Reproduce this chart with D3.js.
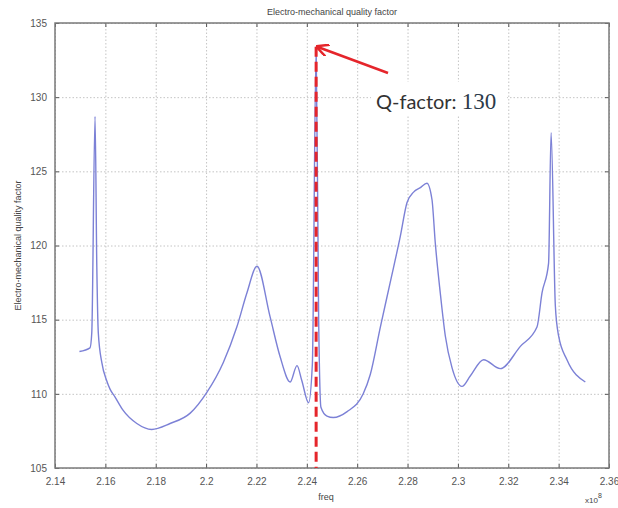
<!DOCTYPE html>
<html>
<head>
<meta charset="utf-8">
<script src="https://cdn.jsdelivr.net/npm/d3@7"></script>
<style>
	body { margin: 0; background: #fff; }
	svg { display: block; }
</style>
</head>
<body>
<div id="chart"></div>
<script>
(function () {

	// frequency (x1e8) and quality factor
	var freq = [2.1497, 2.1539, 2.1546, 2.1559, 2.1566, 2.1572, 2.1586, 2.1605, 2.1619, 2.1638,
		2.1670, 2.1725, 2.1784, 2.1857, 2.1937, 2.2003, 2.2068, 2.2122, 2.2162, 2.2202,
		2.2254, 2.2294, 2.2334, 2.2361, 2.2380, 2.2407, 2.2422, 2.2437, 2.2447, 2.2456,
		2.2480, 2.2505, 2.2560, 2.2624, 2.2652, 2.2692, 2.2731, 2.2771, 2.2798, 2.2824,
		2.2851, 2.2877, 2.2897, 2.2910, 2.2930, 2.2950, 2.2976, 2.3016, 2.3049, 2.3102,
		2.3168, 2.3248, 2.3314, 2.3334, 2.3360, 2.3370, 2.3387, 2.3400, 2.3433, 2.3506];
	var qfactor = [112.85, 113.1, 114.1, 128.7, 118.6, 114.1, 112.1, 110.9, 110.3, 109.8,
		108.9, 108.0, 107.6, 108.0, 108.7, 110.1, 112.1, 114.5, 116.8, 118.6,
		115.2, 112.5, 110.8, 111.9, 110.9, 109.4, 112.0, 133.4, 115.0, 109.1,
		108.5, 108.4, 108.8, 110.0, 111.3, 114.5, 117.5, 120.6, 122.9, 123.6,
		123.9, 124.2, 123.1, 120.2, 116.8, 113.9, 111.8, 110.5, 111.2, 112.3,
		111.7, 113.2, 114.5, 116.8, 118.8, 127.6, 115.9, 113.9, 112.3, 110.8];

	var xTicks = [2.14, 2.16, 2.18, 2.2, 2.22, 2.24, 2.26, 2.28, 2.3, 2.32, 2.34, 2.36];
	var yTicks = [105, 110, 115, 120, 125, 130, 135];

	var markerFreq = 2.2437;
	var markerQ = 133.4;
	var markerLabel = "Q-factor: ";
	var markerValue = "130";

	var width = 618, height = 508;
	var left = 55, right = 609, top = 23, bottom = 468;

	var svg = d3.select("#chart")
				.append("svg")
				.attr("width", width)
				.attr("height", height);

	svg.append("rect")
		.attr("width", width)
		.attr("height", height)
		.attr("fill", "#fff");

	var x = d3.scaleLinear().domain([2.14, 2.36]).range([left, right]);
	var y = d3.scaleLinear().domain([105, 135]).range([bottom, top]);

	// dotted grid
	var grid = svg.append("g").attr("class", "grid");

	grid.append("g")
		.attr("transform", "translate(0," + bottom + ")")
		.call(d3.axisBottom(x).tickValues(xTicks).tickSize(-(bottom - top)).tickFormat(""));

	grid.append("g")
		.attr("transform", "translate(" + left + ",0)")
		.call(d3.axisLeft(y).tickValues(yTicks).tickSize(-(right - left)).tickFormat(""));

	grid.selectAll(".domain").remove();
	grid.selectAll("line")
		.attr("stroke", "#c4c4c4")
		.attr("stroke-dasharray", "1.5,2");

	// curve
	var line = d3.line()
				.x(function(d) { return x(d[0]); })
				.y(function(d) { return y(d[1]); })
				.curve(d3.curveMonotoneX);

	svg.append("path")
		.datum(freq.map(function(f, i) { return [f, qfactor[i]]; }))
		.attr("d", line)
		.attr("fill", "none")
		.attr("stroke", "#7c81d6")
		.attr("stroke-width", 1.4);

	// axes with small inward ticks
	var axes = svg.append("g")
				.attr("font-family", "'Liberation Sans', Arial, sans-serif")
				.attr("font-size", 9)
				;

	axes.append("g")
		.attr("transform", "translate(0," + bottom + ")")
		.call(d3.axisBottom(x).tickValues(xTicks).tickSize(-4).tickPadding(10).tickFormat(d3.format("")));

	axes.append("g")
		.attr("transform", "translate(0," + top + ")")
		.call(d3.axisTop(x).tickValues(xTicks).tickSize(-4).tickFormat(""));

	axes.append("g")
		.attr("transform", "translate(" + left + ",0)")
		.call(d3.axisLeft(y).tickValues(yTicks).tickSize(-4).tickPadding(8));

	axes.append("g")
		.attr("transform", "translate(" + right + ",0)")
		.call(d3.axisRight(y).tickValues(yTicks).tickSize(-4).tickFormat(""));

	axes.selectAll(".domain").remove();
	axes.selectAll("line").attr("stroke", "#555");
	axes.selectAll("text").attr("fill", "#555").attr("font-family", "'Liberation Sans', Arial, sans-serif");

	svg.append("rect")
		.attr("x", left)
		.attr("y", top)
		.attr("width", right - left)
		.attr("height", bottom - top)
		.attr("fill", "none")
		.attr("stroke", "#7a7a7a")
		.attr("stroke-width", 1.5);

	// titles
	svg.append("text")
		.attr("x", (left + right) / 2)
		.attr("y", 15)
		.attr("text-anchor", "middle")
		.attr("font-family", "'Liberation Sans', Arial, sans-serif")
		.attr("font-size", 9)
		.attr("fill", "#444")
		.text("Electro-mechanical quality factor");

	svg.append("text")
		.attr("transform", "translate(21," + ((top + bottom) / 2) + ") rotate(-90)")
		.attr("text-anchor", "middle")
		.attr("font-family", "'Liberation Sans', Arial, sans-serif")
		.attr("font-size", 9)
		.attr("fill", "#444")
		.text("Electro-mechanical quality factor");

	svg.append("text")
		.attr("x", 326)
		.attr("y", 500)
		.attr("text-anchor", "middle")
		.attr("font-family", "'Liberation Sans', Arial, sans-serif")
		.attr("font-size", 9)
		.attr("fill", "#444")
		.text("freq");

	var exp = svg.append("text")
		.attr("x", 585)
		.attr("y", 503)
		.attr("font-family", "'Liberation Sans', Arial, sans-serif")
		.attr("font-size", 8)
		.attr("fill", "#444");
	exp.append("tspan").text("x10");
	exp.append("tspan").attr("dy", -5).attr("font-size", 7).text("8");

	// marker: dashed line, arrow and label
	var defs = svg.append("defs");
	defs.append("marker")
		.attr("id", "head")
		.attr("viewBox", "0 0 10 10")
		.attr("refX", 9)
		.attr("refY", 5)
		.attr("markerWidth", 5)
		.attr("markerHeight", 5)
		.attr("orient", "auto")
		.append("path")
		.attr("d", "M0,0 L10,5 L0,10")
		.attr("fill", "none")
		.attr("stroke", "#e5252b")
		.attr("stroke-width", 2);

	svg.append("line")
		.attr("x1", x(markerFreq))
		.attr("x2", x(markerFreq))
		.attr("y1", y(markerQ))
		.attr("y2", bottom)
		.attr("stroke", "#e5252b")
		.attr("stroke-width", 3)
		.attr("stroke-dasharray", "10,5");

	svg.append("line")
		.attr("x1", 388)
		.attr("y1", 73)
		.attr("x2", x(markerFreq) + 1)
		.attr("y2", y(markerQ))
		.attr("stroke", "#e5252b")
		.attr("stroke-width", 2.5)
		.attr("marker-end", "url(#head)");

	svg.append("rect")
		.attr("x", 371)
		.attr("y", 82)
		.attr("width", 136)
		.attr("height", 34)
		.attr("fill", "#fff");

	var label = svg.append("text")
		.attr("x", 376)
		.attr("y", 109)
		.attr("font-family", "Lato, 'Open Sans', sans-serif")
		.attr("font-size", 20)
		.attr("fill", "#333");
	label.append("tspan").text(markerLabel);
	label.append("tspan")
		.attr("font-family", "'Liberation Serif', 'DejaVu Serif', serif")
		.attr("font-size", 23)
		.attr("fill", "#2b3a4a")
		.text(markerValue);

}) ();
</script>
</body>
</html>
